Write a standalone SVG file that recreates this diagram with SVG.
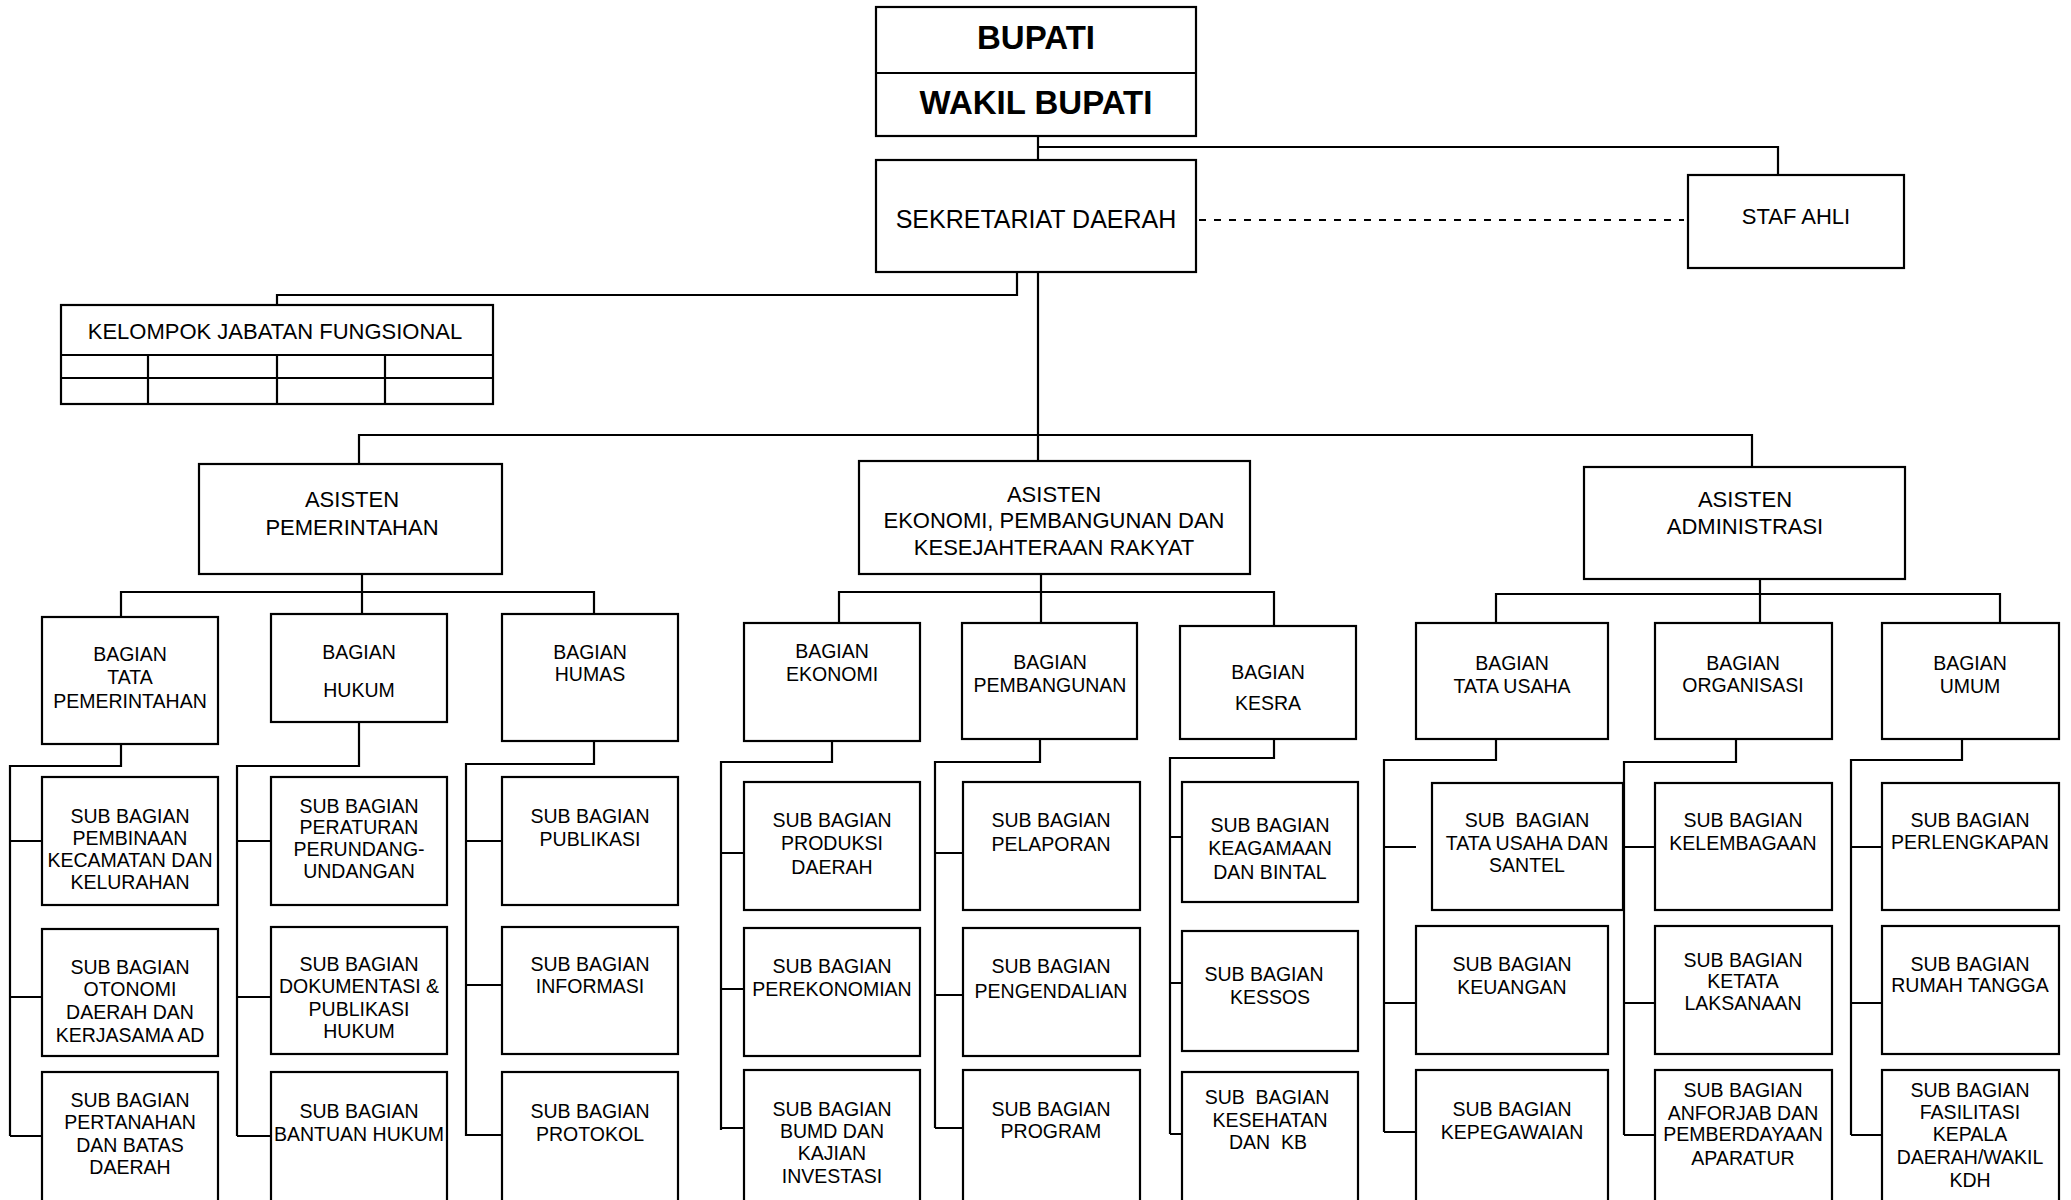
<svg xmlns="http://www.w3.org/2000/svg" width="2071" height="1200" viewBox="0 0 2071 1200">
<style>
.b{fill:#fff;stroke:#000;stroke-width:2.2}
.c{fill:none;stroke:#000;stroke-width:2.2}
.d{fill:none;stroke:#000;stroke-width:2.2;stroke-dasharray:7 8}
text{font-family:"Liberation Sans",Arial,sans-serif;fill:#000;text-anchor:middle}
.t{font-size:19.5px}
.m{font-size:22px}
.k{font-size:25px}
.h{font-size:33px;font-weight:bold}
</style>
<rect width="2071" height="1200" fill="#fff"/>
<g id="connectors">
<path class="c" d="M1038,136V160M1038,147H1778V175"/>
<path class="d" d="M1199,220H1684"/>
<path class="c" d="M1017,272V295H277V305M1038,272V461M359,464V435H1752V467"/>
<path class="c" d="M362,574V614M121,617V592H594V614"/>
<path class="c" d="M1041,574V623M839,623V592H1274V626"/>
<path class="c" d="M1760,579V623M1496,623V594H2000V623"/>
<path class="c" d="M121,744V766H10V1136M10,841H42M10,997H42M10,1136H42"/>
<path class="c" d="M359,722V766H237V1136M237,841H271M237,997H271M237,1136H271"/>
<path class="c" d="M594,741V764H466V1136M466,841H502M466,985H502M466,1135H502"/>
<path class="c" d="M832,741V762H721V1130M721,853H744M721,989H744M721,1128H744"/>
<path class="c" d="M1040,739V762H935V1128M935,853H963M935,995H963M935,1128H963"/>
<path class="c" d="M1274,739V758H1170V1134M1170,837H1182M1170,983H1182M1170,1134H1182"/>
<path class="c" d="M1496,739V760H1384V1132M1384,847H1416M1384,1003H1416M1384,1132H1416"/>
<path class="c" d="M1736,739V762H1624V1135M1624,847H1655M1624,1003H1655M1624,1135H1655"/>
<path class="c" d="M1962,739V760H1851V1135M1851,847H1882M1851,1003H1882M1851,1135H1882"/>
</g>
<g id="bupati">
<rect class="b" x="876" y="7" width="320" height="129"/>
<path class="c" d="M876,73H1196"/>
<text class="h" x="1036" y="49">BUPATI</text>
<text class="h" x="1036" y="114">WAKIL BUPATI</text>
</g>
<g id="sekda">
<rect class="b" x="876" y="160" width="320" height="112"/>
<text class="k" x="1036" y="228">SEKRETARIAT DAERAH</text>
</g>
<g id="staf-ahli">
<rect class="b" x="1688" y="175" width="216" height="93"/>
<text class="m" x="1796" y="224">STAF AHLI</text>
</g>
<g id="kjf">
<rect class="b" x="61" y="305" width="432" height="99"/>
<path class="c" d="M61,355H493M61,378H493M148,355V404M277,355V404M385,355V404"/>
<text class="m" x="275" y="339">KELOMPOK JABATAN FUNGSIONAL</text>
</g>
<g id="asisten-pemerintahan">
<rect class="b" x="199" y="464" width="303" height="110"/>
<text class="m" x="352"><tspan x="352" y="507">ASISTEN</tspan><tspan x="352" y="535">PEMERINTAHAN</tspan></text>
</g>
<g id="asisten-ekonomi">
<rect class="b" x="859" y="461" width="391" height="113"/>
<text class="m"><tspan x="1054" y="502">ASISTEN</tspan><tspan x="1054" y="528">EKONOMI, PEMBANGUNAN DAN</tspan><tspan x="1054" y="555">KESEJAHTERAAN RAKYAT</tspan></text>
</g>
<g id="asisten-administrasi">
<rect class="b" x="1584" y="467" width="321" height="112"/>
<text class="m"><tspan x="1745" y="507">ASISTEN</tspan><tspan x="1745" y="534">ADMINISTRASI</tspan></text>
</g>

<g id="bag-tapem">
<rect class="b" x="42" y="617" width="176" height="127"/>
<text class="t"><tspan x="130" y="661">BAGIAN</tspan><tspan x="130" y="684">TATA</tspan><tspan x="130" y="708">PEMERINTAHAN</tspan></text>
</g>
<g id="sub-pembinaan">
<rect class="b" x="42" y="777" width="176" height="128"/>
<text class="t"><tspan x="130" y="823">SUB BAGIAN</tspan><tspan x="130" y="845">PEMBINAAN</tspan><tspan x="130" y="867">KECAMATAN DAN</tspan><tspan x="130" y="889">KELURAHAN</tspan></text>
</g>
<g id="sub-otonomi">
<rect class="b" x="42" y="929" width="176" height="127"/>
<text class="t"><tspan x="130" y="974">SUB BAGIAN</tspan><tspan x="130" y="996">OTONOMI</tspan><tspan x="130" y="1019">DAERAH DAN</tspan><tspan x="130" y="1042">KERJASAMA AD</tspan></text>
</g>
<g id="sub-pertanahan">
<rect class="b" x="42" y="1072" width="176" height="145"/>
<text class="t"><tspan x="130" y="1107">SUB BAGIAN</tspan><tspan x="130" y="1129">PERTANAHAN</tspan><tspan x="130" y="1152">DAN BATAS</tspan><tspan x="130" y="1174">DAERAH</tspan></text>
</g>

<g id="bag-hukum">
<rect class="b" x="271" y="614" width="176" height="108"/>
<text class="t"><tspan x="359" y="659">BAGIAN</tspan><tspan x="359" y="697">HUKUM</tspan></text>
</g>
<g id="sub-peraturan">
<rect class="b" x="271" y="777" width="176" height="128"/>
<text class="t"><tspan x="359" y="813">SUB BAGIAN</tspan><tspan x="359" y="834">PERATURAN</tspan><tspan x="359" y="856">PERUNDANG-</tspan><tspan x="359" y="878">UNDANGAN</tspan></text>
</g>
<g id="sub-dokumentasi">
<rect class="b" x="271" y="927" width="176" height="127"/>
<text class="t"><tspan x="359" y="971">SUB BAGIAN</tspan><tspan x="359" y="993">DOKUMENTASI &amp;</tspan><tspan x="359" y="1016">PUBLIKASI</tspan><tspan x="359" y="1038">HUKUM</tspan></text>
</g>
<g id="sub-bantuan-hukum">
<rect class="b" x="271" y="1072" width="176" height="145"/>
<text class="t"><tspan x="359" y="1118">SUB BAGIAN</tspan><tspan x="359" y="1141">BANTUAN HUKUM</tspan></text>
</g>

<g id="bag-humas">
<rect class="b" x="502" y="614" width="176" height="127"/>
<text class="t"><tspan x="590" y="659">BAGIAN</tspan><tspan x="590" y="681">HUMAS</tspan></text>
</g>
<g id="sub-publikasi">
<rect class="b" x="502" y="777" width="176" height="128"/>
<text class="t"><tspan x="590" y="823">SUB BAGIAN</tspan><tspan x="590" y="846">PUBLIKASI</tspan></text>
</g>
<g id="sub-informasi">
<rect class="b" x="502" y="927" width="176" height="127"/>
<text class="t"><tspan x="590" y="971">SUB BAGIAN</tspan><tspan x="590" y="993">INFORMASI</tspan></text>
</g>
<g id="sub-protokol">
<rect class="b" x="502" y="1072" width="176" height="145"/>
<text class="t"><tspan x="590" y="1118">SUB BAGIAN</tspan><tspan x="590" y="1141">PROTOKOL</tspan></text>
</g>

<g id="bag-ekonomi">
<rect class="b" x="744" y="623" width="176" height="118"/>
<text class="t"><tspan x="832" y="658">BAGIAN</tspan><tspan x="832" y="681">EKONOMI</tspan></text>
</g>
<g id="sub-produksi">
<rect class="b" x="744" y="782" width="176" height="128"/>
<text class="t"><tspan x="832" y="827">SUB BAGIAN</tspan><tspan x="832" y="850">PRODUKSI</tspan><tspan x="832" y="874">DAERAH</tspan></text>
</g>
<g id="sub-perekonomian">
<rect class="b" x="744" y="928" width="176" height="128"/>
<text class="t"><tspan x="832" y="973">SUB BAGIAN</tspan><tspan x="832" y="996">PEREKONOMIAN</tspan></text>
</g>
<g id="sub-bumd">
<rect class="b" x="744" y="1070" width="176" height="147"/>
<text class="t"><tspan x="832" y="1116">SUB BAGIAN</tspan><tspan x="832" y="1138">BUMD DAN</tspan><tspan x="832" y="1160">KAJIAN</tspan><tspan x="832" y="1183">INVESTASI</tspan></text>
</g>

<g id="bag-pembangunan">
<rect class="b" x="962" y="623" width="175" height="116"/>
<text class="t"><tspan x="1050" y="669">BAGIAN</tspan><tspan x="1050" y="692">PEMBANGUNAN</tspan></text>
</g>
<g id="sub-pelaporan">
<rect class="b" x="963" y="782" width="177" height="128"/>
<text class="t"><tspan x="1051" y="827">SUB BAGIAN</tspan><tspan x="1051" y="851">PELAPORAN</tspan></text>
</g>
<g id="sub-pengendalian">
<rect class="b" x="963" y="928" width="177" height="128"/>
<text class="t"><tspan x="1051" y="973">SUB BAGIAN</tspan><tspan x="1051" y="998">PENGENDALIAN</tspan></text>
</g>
<g id="sub-program">
<rect class="b" x="963" y="1070" width="177" height="147"/>
<text class="t"><tspan x="1051" y="1116">SUB BAGIAN</tspan><tspan x="1051" y="1138">PROGRAM</tspan></text>
</g>

<g id="bag-kesra">
<rect class="b" x="1180" y="626" width="176" height="113"/>
<text class="t"><tspan x="1268" y="679">BAGIAN</tspan><tspan x="1268" y="710">KESRA</tspan></text>
</g>
<g id="sub-keagamaan">
<rect class="b" x="1182" y="782" width="176" height="120"/>
<text class="t"><tspan x="1270" y="832">SUB BAGIAN</tspan><tspan x="1270" y="855">KEAGAMAAN</tspan><tspan x="1270" y="879">DAN BINTAL</tspan></text>
</g>
<g id="sub-kessos">
<rect class="b" x="1182" y="931" width="176" height="120"/>
<text class="t"><tspan x="1264" y="981">SUB BAGIAN</tspan><tspan x="1270" y="1004">KESSOS</tspan></text>
</g>
<g id="sub-kesehatan">
<rect class="b" x="1182" y="1072" width="176" height="145"/>
<text class="t" xml:space="preserve"><tspan x="1267" y="1104">SUB  BAGIAN</tspan><tspan x="1270" y="1127">KESEHATAN</tspan><tspan x="1268" y="1149">DAN  KB</tspan></text>
</g>

<g id="bag-tata-usaha">
<rect class="b" x="1416" y="623" width="192" height="116"/>
<text class="t"><tspan x="1512" y="670">BAGIAN</tspan><tspan x="1512" y="693">TATA USAHA</tspan></text>
</g>
<g id="sub-tu-santel">
<rect class="b" x="1432" y="783" width="191" height="127"/>
<text class="t" xml:space="preserve"><tspan x="1527" y="827">SUB  BAGIAN</tspan><tspan x="1527" y="850">TATA USAHA DAN</tspan><tspan x="1527" y="872">SANTEL</tspan></text>
</g>
<g id="sub-keuangan">
<rect class="b" x="1416" y="926" width="192" height="128"/>
<text class="t"><tspan x="1512" y="971">SUB BAGIAN</tspan><tspan x="1512" y="994">KEUANGAN</tspan></text>
</g>
<g id="sub-kepegawaian">
<rect class="b" x="1416" y="1070" width="192" height="147"/>
<text class="t"><tspan x="1512" y="1116">SUB BAGIAN</tspan><tspan x="1512" y="1139">KEPEGAWAIAN</tspan></text>
</g>

<g id="bag-organisasi">
<rect class="b" x="1655" y="623" width="177" height="116"/>
<text class="t"><tspan x="1743" y="670">BAGIAN</tspan><tspan x="1743" y="692">ORGANISASI</tspan></text>
</g>
<g id="sub-kelembagaan">
<rect class="b" x="1655" y="783" width="177" height="127"/>
<text class="t"><tspan x="1743" y="827">SUB BAGIAN</tspan><tspan x="1743" y="850">KELEMBAGAAN</tspan></text>
</g>
<g id="sub-ketatalaksanaan">
<rect class="b" x="1655" y="926" width="177" height="128"/>
<text class="t"><tspan x="1743" y="967">SUB BAGIAN</tspan><tspan x="1743" y="988">KETATA</tspan><tspan x="1743" y="1010">LAKSANAAN</tspan></text>
</g>
<g id="sub-anforjab">
<rect class="b" x="1655" y="1070" width="177" height="147"/>
<text class="t"><tspan x="1743" y="1097">SUB BAGIAN</tspan><tspan x="1743" y="1120">ANFORJAB DAN</tspan><tspan x="1743" y="1141">PEMBERDAYAAN</tspan><tspan x="1743" y="1165">APARATUR</tspan></text>
</g>

<g id="bag-umum">
<rect class="b" x="1882" y="623" width="177" height="116"/>
<text class="t"><tspan x="1970" y="670">BAGIAN</tspan><tspan x="1970" y="693">UMUM</tspan></text>
</g>
<g id="sub-perlengkapan">
<rect class="b" x="1882" y="783" width="177" height="127"/>
<text class="t"><tspan x="1970" y="827">SUB BAGIAN</tspan><tspan x="1970" y="849">PERLENGKAPAN</tspan></text>
</g>
<g id="sub-rumah-tangga">
<rect class="b" x="1882" y="926" width="177" height="128"/>
<text class="t"><tspan x="1970" y="971">SUB BAGIAN</tspan><tspan x="1970" y="992">RUMAH TANGGA</tspan></text>
</g>
<g id="sub-fasilitasi">
<rect class="b" x="1882" y="1070" width="177" height="147"/>
<text class="t"><tspan x="1970" y="1097">SUB BAGIAN</tspan><tspan x="1970" y="1119">FASILITASI</tspan><tspan x="1970" y="1141">KEPALA</tspan><tspan x="1970" y="1164">DAERAH/WAKIL</tspan><tspan x="1970" y="1187">KDH</tspan></text>
</g>
</svg>
